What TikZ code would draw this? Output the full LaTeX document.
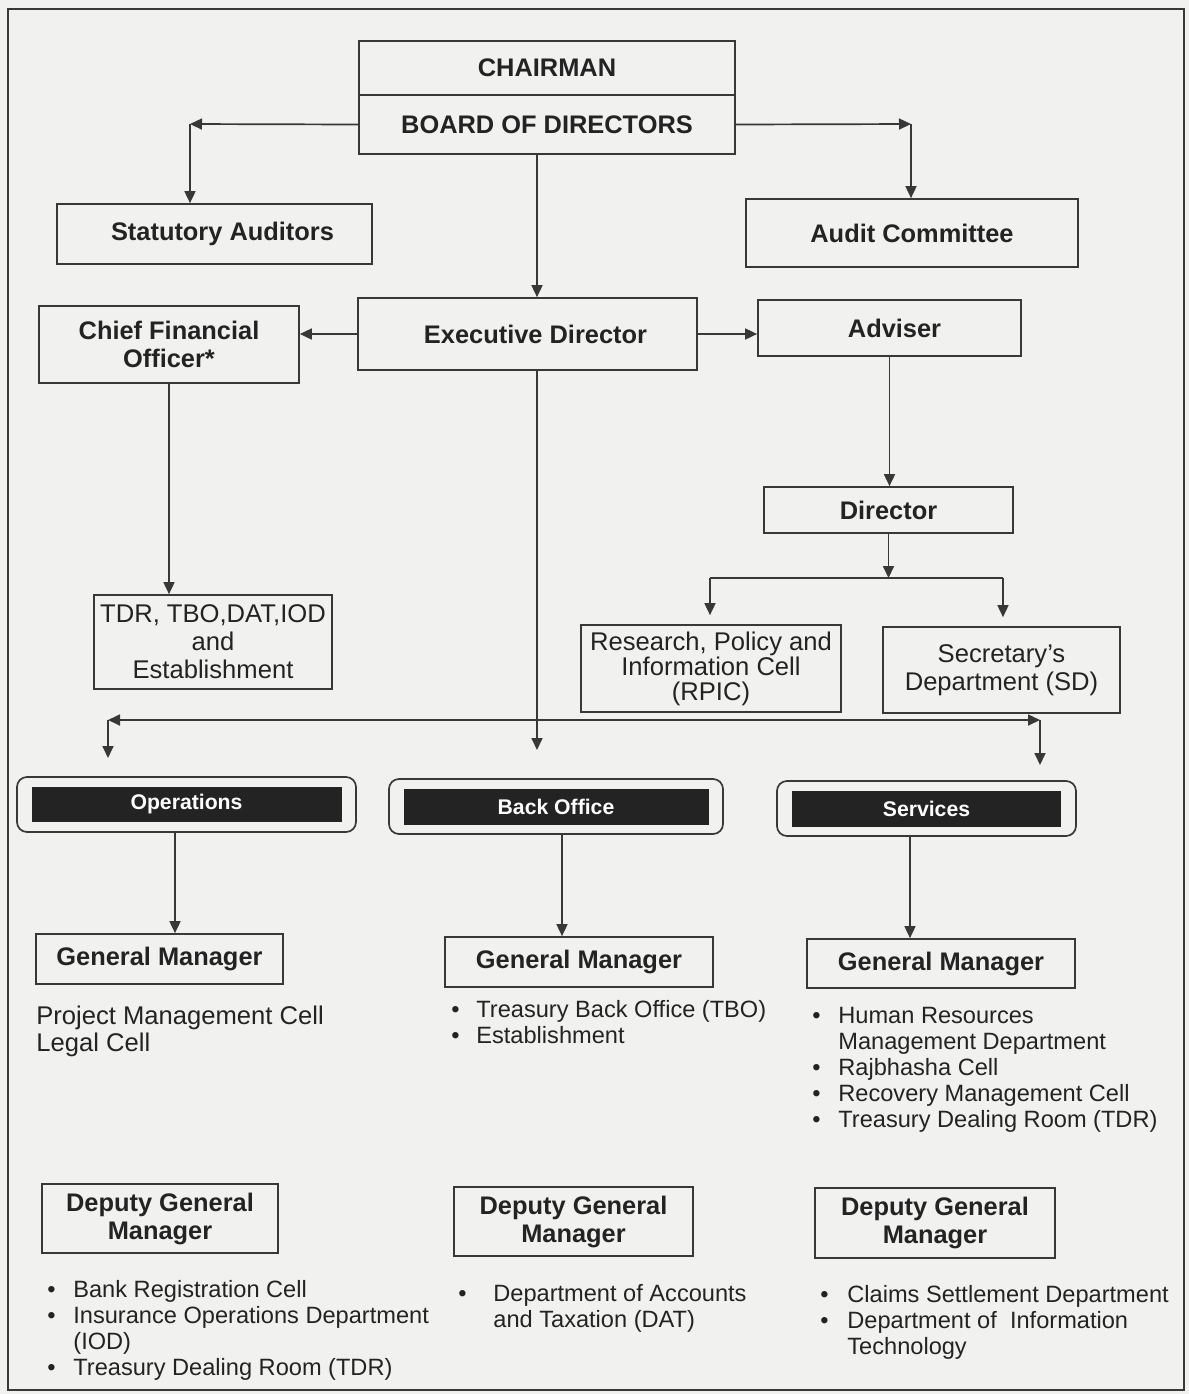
\documentclass[tikz,border=0pt]{standalone}
\usepackage{fontspec}
\setmainfont{Liberation Sans}
\usepackage{xcolor}
\usepackage{tikz}
\usetikzlibrary{arrows.meta}
\definecolor{paper}{HTML}{F1F1F0}
\definecolor{inkgray}{HTML}{232323}
\definecolor{linegray}{HTML}{383838}

\begin{document}
\begin{tikzpicture}[
    x=0.5pt, y=-0.5pt,
    box/.style={rectangle, draw=linegray, line width=0.85pt, align=center, inner sep=0pt,
                text=inkgray, font=\fontsize{12.7}{14}\selectfont\bfseries},
    plainbox/.style={box, font=\fontsize{12.8}{14}\selectfont},
    unit/.style={rectangle, rounded corners=5pt, draw=linegray, line width=0.85pt, inner sep=0pt},
    bar/.style={rectangle, fill=inkgray, text=white, inner sep=0pt,
                font=\fontsize{10.6}{12}\selectfont\bfseries},
    arrow/.style={-{Triangle[length=6pt, width=5.5pt]}, line width=0.85pt, draw=linegray},
    twoway/.style={arrow, {Triangle[length=6pt, width=5.5pt]}-{Triangle[length=6pt, width=5.5pt]}},
    link/.style={line width=0.85pt, draw=linegray},
    list/.style={anchor=base west, inner sep=0pt, text=inkgray, font=\fontsize{11.8}{13}\selectfont}
  ]
    \fill[paper] (0,0) rectangle (1189,1394);
    \draw[link] (8,9) rectangle (1184,1390);

    \node[box, minimum width=188pt, minimum height=27pt]    (chair)     at (547,68)     {CHAIRMAN};
    \node[box, minimum width=188pt, minimum height=29.5pt]  (board)     at (547,124.5)  {BOARD OF DIRECTORS};
    \node[box, minimum width=157.5pt, minimum height=30pt]  (statutory) at (214.5,234)  {\hspace*{8pt}Statutory Auditors};
    \node[box, minimum width=166pt, minimum height=34pt]    (audit)     at (912,233)    {Audit Committee};
    \node[box, minimum width=169.5pt, minimum height=36pt]  (exec)      at (527.5,334)  {\hspace*{8pt}Executive Director};
    \node[box, minimum width=130pt, minimum height=38.5pt]  (cfo)       at (169,344.5)  {Chief Financial\\Officer*};
    \node[box, minimum width=131.5pt, minimum height=28pt]  (adviser)   at (889.5,328)  {\hspace*{5pt}Adviser};
    \node[box, minimum width=124.5pt, minimum height=23pt]  (director)  at (888.5,510)  {Director};
    \node[plainbox, minimum width=130pt, minimum height=43.5pt,
          font=\fontsize{12.8}{12.5}\selectfont]             (rpic)      at (711,668.5)  {Research, Policy and\\Information Cell\\(RPIC)};
    \node[plainbox, minimum width=118.5pt, minimum height=43pt] (sd)     at (1001.5,670) {Secretary's\\Department (SD)};
    \node[plainbox, minimum width=119pt, minimum height=47pt]   (tdr)    at (213,642)    {TDR, TBO,DAT,IOD\\and\\Establishment};

    \node[unit, minimum width=169.5pt, minimum height=27.5pt] (ops)     at (186.5,804.5) {};
    \node[bar, minimum width=155pt, minimum height=17.5pt]    (opsbar)  at (ops.center)  {Operations};
    \node[unit, minimum width=167pt, minimum height=27.5pt]   (back)    at (556,806.5)   {};
    \node[bar, minimum width=152.5pt, minimum height=18pt]    (backbar) at (back.center) {Back Office};
    \node[unit, minimum width=149.5pt, minimum height=27.5pt] (serv)    at (926.5,808.5) {};
    \node[bar, minimum width=134.5pt, minimum height=18pt]    (servbar) at (serv.center) {Services};

    \node[box, minimum width=123.5pt, minimum height=25pt]  (gmops)   at (159.5,959)  {General Manager};
    \node[box, minimum width=134pt, minimum height=25pt]    (gmback)  at (579,962)    {General Manager};
    \node[box, minimum width=134pt, minimum height=24.5pt]  (gmserv)  at (941,963.5)  {General Manager};
    \node[box, minimum width=118pt, minimum height=34.5pt]  (dgmops)  at (160,1218.5) {Deputy General\\Manager};
    \node[box, minimum width=119.5pt, minimum height=34.5pt] (dgmback) at (573.5,1221.5) {Deputy General\\Manager};
    \node[box, minimum width=120pt, minimum height=35pt]    (dgmserv) at (935,1223)   {Deputy General\\Manager};

    \node[list, font=\fontsize{12.8}{13.5}\selectfont] (gmopslist) at (36,1024)
      {\begin{tabular}[t]{@{}l@{}}Project Management Cell\\Legal Cell\end{tabular}};
    \node[list] (gmbacklist) at (451,1017)
      {\begin{tabular}[t]{@{}p{12.5pt}@{}l@{}}\textbullet & Treasury Back Office (TBO)\\
       \textbullet & Establishment\end{tabular}};
    \node[list] (gmservlist) at (812,1023)
      {\begin{tabular}[t]{@{}p{13pt}@{}l@{}}\textbullet & Human Resources\\
       & Management Department\\ \textbullet & Rajbhasha Cell\\
       \textbullet & Recovery Management Cell\\ \textbullet & Treasury Dealing Room (TDR)\end{tabular}};
    \node[list] (dgmopslist) at (47,1297)
      {\begin{tabular}[t]{@{}p{13pt}@{}l@{}}\textbullet & Bank Registration Cell\\
       \textbullet & Insurance Operations Department\\ & (IOD)\\
       \textbullet & Treasury Dealing Room (TDR)\end{tabular}};
    \node[list] (dgmbacklist) at (458,1301)
      {\begin{tabular}[t]{@{}p{17.5pt}@{}l@{}}\textbullet & Department of Accounts\\
       & and Taxation (DAT)\end{tabular}};
    \node[list] (dgmservlist) at (820,1302)
      {\begin{tabular}[t]{@{}p{13.5pt}@{}l@{}}\textbullet & Claims Settlement Department\\
       \textbullet & Department of\ \ Information\\ & Technology\end{tabular}};

    \coordinate (statknee)  at (190,124);
    \coordinate (auditknee) at (911,124);
    \coordinate (edcol)     at (537,0);
    \coordinate (dirsplit)  at (888,578);
    \coordinate (rpicknee)  at (710,578);
    \coordinate (sdknee)    at (1003,578);
    \coordinate (opsknee)   at (108,720);
    \coordinate (servknee)  at (1040,720);
    \coordinate (opsend)    at (108,758);
    \coordinate (servend)   at (1040,765);
    \coordinate (backend)   at (537,750);
    \coordinate (opscol)    at (175,0);
    \coordinate (backcol)   at (562,0);
    \coordinate (servcol)   at (910,0);

    \draw[arrow] (board.west) -- (statknee);
    \draw[arrow] (statknee) -- (statknee |- statutory.north);
    \draw[arrow] (board.east) -- (auditknee);
    \draw[arrow] (auditknee) -- (auditknee |- audit.north);
    \draw[arrow] (board.south -| edcol) -- (exec.north -| edcol);
    \draw[arrow] (exec.west) -- (exec.west -| cfo.east);
    \draw[arrow] (exec.east) -- (exec.east -| adviser.west);
    \draw[arrow] (adviser.south) -- (adviser.south |- director.north);
    \draw[arrow] (director.south) -- (director.south |- dirsplit);
    \draw[link] (rpicknee) -- (sdknee);
    \draw[arrow, shorten >=4.5pt] (rpicknee) -- (rpicknee |- rpic.north);
    \draw[arrow, shorten >=4.5pt] (sdknee) -- (sdknee |- sd.north);
    \draw[arrow] (cfo.south) -- (cfo.south |- tdr.north);
    \draw[arrow] (exec.south -| edcol) -- (backend);
    \draw[twoway] (opsknee) -- (servknee);
    \draw[arrow] (opsknee) -- (opsend);
    \draw[arrow] (servknee) -- (servend);
    \draw[arrow] (ops.south -| opscol) -- (gmops.north -| opscol);
    \draw[arrow] (back.south -| backcol) -- (gmback.north -| backcol);
    \draw[arrow] (serv.south -| servcol) -- (gmserv.north -| servcol);
\end{tikzpicture}
\end{document}
